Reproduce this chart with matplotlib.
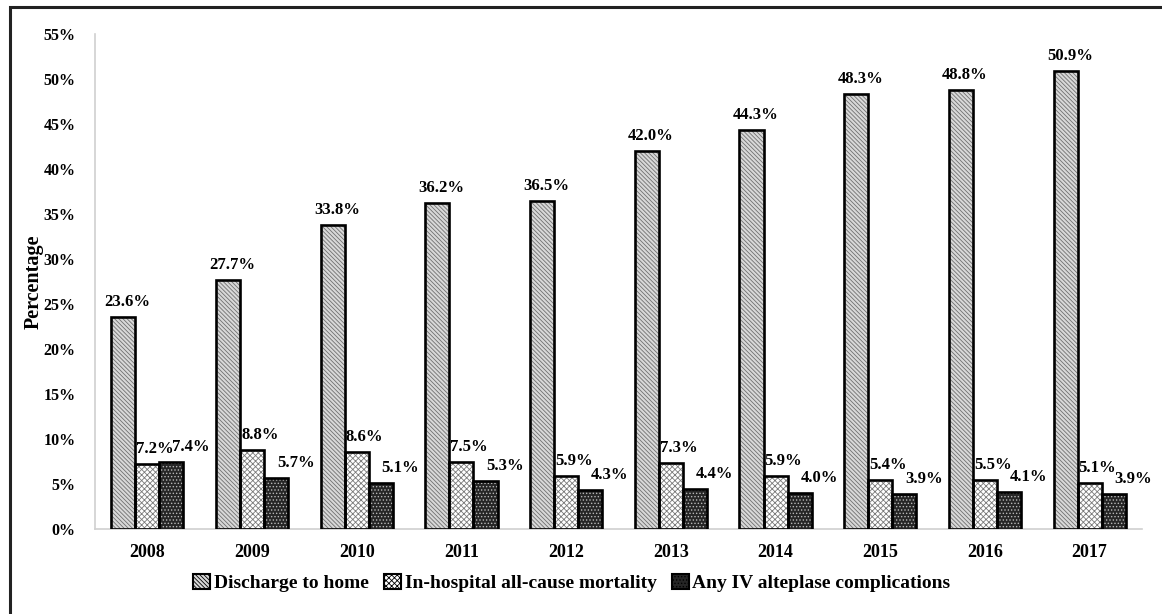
import matplotlib
matplotlib.use("Agg")
import matplotlib.pyplot as plt
import numpy as np
from matplotlib.patches import Rectangle

years = ["2008", "2009", "2010", "2011", "2012", "2013", "2014", "2015", "2016", "2017"]
discharge_home = [23.6, 27.7, 33.8, 36.2, 36.5, 42.0, 44.3, 48.3, 48.8, 50.9]
mortality = [7.2, 8.8, 8.6, 7.5, 5.9, 7.3, 5.9, 5.4, 5.5, 5.1]
complications = [7.4, 5.7, 5.1, 5.3, 4.3, 4.4, 4.0, 3.9, 4.1, 3.9]
series_names = ["Discharge to home", "In-hospital all-cause mortality",
                "Any IV alteplase complications"]
y_ticks = list(range(0, 56, 5))

plt.rcParams["font.family"] = ["Liberation Serif", "DejaVu Serif"]
plt.rcParams["font.weight"] = "bold"
plt.rcParams["hatch.linewidth"] = 0.6

fig = plt.figure(figsize=(11.62, 6.14), dpi=100)
ax = fig.add_axes([95 / 1162, 85 / 614, 1047 / 1162, 495 / 614])

x = np.arange(len(years))
w = 0.23
# (face colour, hatch colour, hatch pattern, label x-offset in points)
styles = [
    ("#d8d8d8", "#707070", "\\\\\\\\\\\\\\\\", 3),
    ("#ffffff", "#7a7a7a", "xxxxxx", 5.5),
    ("#262626", "#b8b8b8", ".....", 14),
]
series = [discharge_home, mortality, complications]
handles = []
for i, (vals, (fc, hc, hatch, dx)) in enumerate(zip(series, styles)):
    pos = x + (i - 1) * w
    ax.bar(pos, vals, w, color=fc, linewidth=0, zorder=2)
    ax.bar(pos, vals, w, facecolor="none", edgecolor=hc, hatch=hatch,
           linewidth=0, zorder=3)
    ax.bar(pos, vals, w, facecolor="none", edgecolor="black",
           linewidth=1.9, zorder=4)
    for p, v in zip(pos, vals):
        ax.annotate(f"{v:.1f}%", (p, v), xytext=(dx, 5),
                    textcoords="offset points", ha="center", va="bottom",
                    fontsize=12, fontweight="bold", zorder=5)
    h = Rectangle((0, 0), 1, 1, facecolor=fc, edgecolor="black",
                  hatch=hatch, linewidth=1.5)
    handles.append(h)

ax.set_xlim(-0.5, len(years) - 0.5)
ax.set_ylim(0, 55)
ax.set_yticks(y_ticks)
ax.set_yticklabels([f"{t}%" for t in y_ticks], fontsize=11.5, fontweight="bold")
ax.set_xticks(x)
ax.set_xticklabels(years, fontsize=13, fontweight="bold")
ax.tick_params(axis="y", length=0, pad=14)
ax.tick_params(axis="x", length=0, pad=11)
ax.set_ylabel("Percentage", fontsize=14.5, fontweight="bold", labelpad=0)
for side in ("top", "right"):
    ax.spines[side].set_visible(False)
for side in ("left", "bottom"):
    ax.spines[side].set_color("#d0d0d0")
    ax.spines[side].set_linewidth(1.2)

fig.legend(handles, series_names, loc="center", bbox_to_anchor=(572 / 1162, 31 / 614),
           ncol=3, frameon=False, handlelength=0.85, handleheight=0.85,
           handletextpad=0.2, columnspacing=0.8, prop={"weight": "bold", "size": 14})

# outer frame
fig.patches.append(Rectangle((10 / 1162, -0.1), 1.2, (614 - 7) / 614 + 0.1,
                             transform=fig.transFigure, facecolor="none",
                             edgecolor="#222222", linewidth=2.2, zorder=10))

fig.savefig("out.png", dpi=100)
